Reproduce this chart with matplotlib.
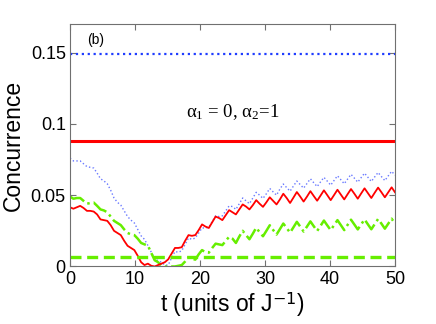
import matplotlib
matplotlib.use('Agg')
import matplotlib.pyplot as plt
import numpy as np

plt.rcParams['font.family'] = ['Liberation Sans', 'DejaVu Sans']
plt.rcParams['mathtext.fontset'] = 'custom'
plt.rcParams['mathtext.rm'] = 'Liberation Serif'
plt.rcParams['mathtext.it'] = 'Liberation Serif:italic'

# time grid, 97 samples over 0..50
t = np.linspace(0, 50, 97)

# steady values (alpha1 = 0, alpha2 = 1)
blue_const = 0.149
red_const = 0.0882
green_const = 0.0065

red_osc = [
    0.0415, 0.0405, 0.0415, 0.0425, 0.041, 0.039, 0.039, 0.0385, 0.0365, 0.033,
    0.0325, 0.032, 0.029, 0.025, 0.0235, 0.022, 0.018, 0.0145, 0.013, 0.0115,
    0.0075, 0.003, 0.001, 0.002, 0.0005, 0.0, 0.001, 0.002, 0.003, 0.005,
    0.009, 0.013, 0.013, 0.0135, 0.018, 0.022, 0.0215, 0.022, 0.0255, 0.0295,
    0.028, 0.027, 0.031, 0.035, 0.034, 0.0325, 0.036, 0.0395, 0.038, 0.0365,
    0.040, 0.0435, 0.042, 0.040, 0.043, 0.0465, 0.044, 0.0418, 0.045, 0.0485,
    0.046, 0.0435, 0.047, 0.051, 0.048, 0.0445, 0.0483, 0.0522, 0.049, 0.0455,
    0.049, 0.0528, 0.0494, 0.0461, 0.0497, 0.0534, 0.050, 0.0465, 0.0501, 0.0538,
    0.0504, 0.047, 0.0507, 0.0543, 0.051, 0.0475, 0.0512, 0.0548, 0.0514, 0.048,
    0.0517, 0.0553, 0.052, 0.0485, 0.052, 0.0555, 0.052,
]

blue_osc = [
    0.076, 0.074, 0.074, 0.074, 0.072, 0.070, 0.0695, 0.069, 0.0655, 0.0615,
    0.060, 0.058, 0.0535, 0.048, 0.045, 0.043, 0.039, 0.035, 0.0325, 0.0305,
    0.026, 0.0215, 0.019, 0.0147, 0.010, 0.0056, 0.004, 0.003, 0.001, 0.001,
    0.006, 0.0105, 0.010, 0.011, 0.0155, 0.020, 0.019, 0.020, 0.0235, 0.027,
    0.027, 0.0275, 0.0315, 0.0355, 0.035, 0.0355, 0.039, 0.0425, 0.042, 0.040,
    0.044, 0.048, 0.046, 0.044, 0.048, 0.052, 0.050, 0.0477, 0.051, 0.0547,
    0.0523, 0.050, 0.0543, 0.0578, 0.0553, 0.0528, 0.0564, 0.0599, 0.0574, 0.0549,
    0.0582, 0.0615, 0.0587, 0.056, 0.0593, 0.0625, 0.0598, 0.057, 0.0603, 0.0636,
    0.0608, 0.058, 0.0613, 0.0646, 0.0619, 0.0591, 0.0623, 0.0654, 0.0625, 0.0596,
    0.0628, 0.0659, 0.063, 0.0602, 0.0635, 0.0667, 0.064,
]

green_osc = [
    0.049, 0.0475, 0.048, 0.048, 0.046, 0.044, 0.0445, 0.0448, 0.0425, 0.040,
    0.0393, 0.038, 0.035, 0.032, 0.0305, 0.029, 0.026, 0.0235, 0.0225, 0.022,
    0.0195, 0.0165, 0.0155, 0.0147, 0.0095, 0.0044, 0.003, 0.0005, 0.0, 0.0,
    0.0, 0.0, 0.0005, 0.001, 0.0035, 0.0065, 0.0055, 0.0048, 0.0085, 0.0115,
    0.010, 0.0097, 0.013, 0.016, 0.0155, 0.015, 0.018, 0.0208, 0.0195, 0.0165,
    0.021, 0.025, 0.022, 0.0191, 0.023, 0.0272, 0.024, 0.0212, 0.025, 0.0289,
    0.0256, 0.0224, 0.0262, 0.0301, 0.027, 0.0237, 0.0275, 0.0313, 0.028, 0.0245,
    0.028, 0.0316, 0.0282, 0.0249, 0.0285, 0.0322, 0.0288, 0.0255, 0.029, 0.0325,
    0.029, 0.0255, 0.0292, 0.0328, 0.0294, 0.026, 0.0295, 0.033, 0.0295, 0.0261,
    0.0297, 0.0333, 0.030, 0.0265, 0.030, 0.0335, 0.030,
]

fig = plt.figure(figsize=(4.36, 3.24), dpi=100)
ax = fig.add_axes([0.1606, 0.1775, 0.7454, 0.7485])

green = '#66ee00'
ax.plot(t, blue_osc, ':', color='#6a7aff', lw=1.0)
ax.plot(t, green_osc, '-.', color=green, lw=1.8)
ax.plot(t, red_osc, '-', color='#ff0000', lw=1.3, solid_joinstyle='round')

ax.axhline(blue_const, color='#1f3dff', ls=':', lw=1.6)
ax.axhline(red_const, color='#ff0000', ls='-', lw=2.2)
ax.axhline(green_const, color=green, lw=2.4, dashes=(3.3, 1.7))

ax.set_xlim(0, 50)
ax.set_ylim(0, 0.17)
ax.set_xticks([0, 10, 20, 30, 40, 50])
ax.set_yticks([0, 0.05, 0.1, 0.15])
ax.set_yticklabels(['0', '0.05', '0.1', '0.15'])
ax.tick_params(direction='in', top=True, right=True, labelsize=13,
               length=4, color='#707070', pad=3)
for s in ax.spines.values():
    s.set_color('#707070')

ax.set_xlabel(r't (units of J$^{\mathsf{-1}}$)', fontsize=16.5, labelpad=2)
ax.set_ylabel('Concurrence', fontsize=16.5, labelpad=4)

ax.text(2.7, 0.159, '(b)', fontsize=10, ha='left', va='center')
ax.text(17.8, 0.1045, 'α$_1$ = 0, α$_2$=1', fontsize=13.5,
        family='Liberation Serif', ha='left', va='baseline')

fig.savefig('out.png', dpi=100)
